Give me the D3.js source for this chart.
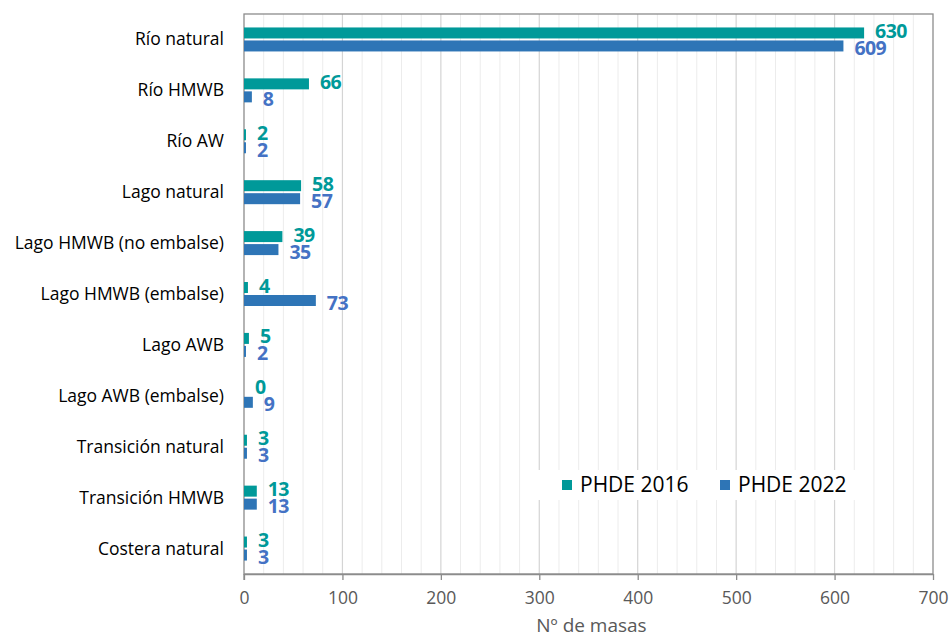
<!DOCTYPE html>
<html>
<head>
<meta charset="utf-8">
<script src="https://cdn.jsdelivr.net/npm/d3@7"></script>
<style>
  body { margin: 0; background: #fff; }
  text { font-family: "Open Sans", sans-serif; }
</style>
</head>
<body>
<div id="chart"></div>
<script>
// data
var categories = ['Río natural', 'Río HMWB', 'Río AW', 'Lago natural', 'Lago HMWB (no embalse)',
  'Lago HMWB (embalse)', 'Lago AWB', 'Lago AWB (embalse)', 'Transición natural',
  'Transición HMWB', 'Costera natural']
var values2016 = [630, 66, 2, 58, 39, 4, 5, 0, 3, 13, 3]
var values2022 = [609, 8, 2, 57, 35, 73, 2, 9, 3, 13, 3]
var seriesNames = ['PHDE 2016', 'PHDE 2022']
var xTicks = [0, 100, 200, 300, 400, 500, 600, 700]

var colors = ['#009999', '#2E75B6']
var labelColors = ['#009999', '#4472C4']

var W = 949, H = 641
var margin = { top: 14, right: 16, bottom: 67, left: 244 }
var width = W - margin.left - margin.right
var height = H - margin.top - margin.bottom

var svg = d3.select('#chart')
  .append('svg')
  .attr('width', W)
  .attr('height', H)
  .append('g')
  .attr('transform', 'translate(' + margin.left + ',' + margin.top + ')')

var x = d3.scaleLinear().domain([0, 700]).range([0, width])
var y = d3.scaleBand().domain(categories).range([0, height])

// grid lines: minor every 20, major every 100
svg.append('g')
  .selectAll('line')
  .data(d3.range(20, 700, 20).filter(function (d) { return d % 100 !== 0 }))
  .enter()
  .append('line')
  .attr('x1', d => x(d)).attr('x2', d => x(d))
  .attr('y1', 0).attr('y2', height)
  .attr('stroke', '#ececec')
  .attr('stroke-width', 1)

svg.append('g')
  .selectAll('line')
  .data(xTicks.slice(1, -1))
  .enter()
  .append('line')
  .attr('x1', d => x(d)).attr('x2', d => x(d))
  .attr('y1', 0).attr('y2', height)
  .attr('stroke', '#d4d4d4')
  .attr('stroke-width', 1.2)

// plot border
svg.append('rect')
  .attr('x', 0).attr('y', 0)
  .attr('width', width).attr('height', height)
  .attr('fill', 'none')
  .attr('stroke', '#8c8c8c')
  .attr('stroke-width', 1.3)

// bars
var series = [values2016, values2022]
var barH = 11
var offsets = [-12, 1]
var labelShift = [5, 9]

series.forEach(function (vals, i) {
  var g = svg.append('g')
  g.selectAll('rect')
    .data(vals)
    .enter()
    .append('rect')
    .attr('x', 0)
    .attr('y', (d, j) => y(categories[j]) + y.bandwidth() / 2 + offsets[i])
    .attr('width', d => x(d))
    .attr('height', barH)
    .attr('fill', colors[i])

  g.selectAll('text')
    .data(vals)
    .enter()
    .append('text')
    .attr('x', d => x(d) + 11)
    .attr('y', (d, j) => y(categories[j]) + y.bandwidth() / 2 + offsets[i] + barH / 2 + labelShift[i])
    .attr('fill', labelColors[i])
    .attr('font-size', 19.5)
    .attr('font-weight', 'bold')
    .attr('letter-spacing', -0.6)
    .text(d => d)
})

// x axis
var xAxis = svg.append('g')
  .attr('transform', 'translate(0,' + height + ')')
  .call(d3.axisBottom(x).tickValues(xTicks).tickSize(6).tickSizeOuter(0).tickPadding(12))
xAxis.select('.domain').attr('stroke', '#8c8c8c').attr('stroke-width', 1.3)
xAxis.selectAll('.tick line').attr('stroke', '#8c8c8c').attr('stroke-width', 1.3)
xAxis.selectAll('.tick text')
  .attr('fill', '#595959')
  .attr('font-size', 17.5)
  .style('font-family', '"Open Sans", sans-serif')

// left axis line extends to tick
svg.append('line')
  .attr('x1', 0).attr('x2', 0)
  .attr('y1', height).attr('y2', height + 6)
  .attr('stroke', '#8c8c8c').attr('stroke-width', 1.3)

// category labels
svg.append('g')
  .selectAll('text')
  .data(categories)
  .enter()
  .append('text')
  .attr('x', -20)
  .attr('y', d => y(d) + y.bandwidth() / 2 + 6)
  .attr('text-anchor', 'end')
  .attr('fill', '#000')
  .attr('font-size', 17.5)
  .text(d => d)

// axis title
svg.append('text')
  .attr('x', width / 2 + 3)
  .attr('y', height + 58)
  .attr('text-anchor', 'middle')
  .attr('fill', '#595959')
  .attr('font-size', 19)
  .text('Nº de masas')

// legend
var legend = svg.append('g')
  .attr('transform', 'translate(' + (535 - margin.left) + ',' + (470 - margin.top) + ')')
legend.append('rect')
  .attr('width', 330).attr('height', 30)
  .attr('fill', '#fff')

var legendX = [27, 185]
seriesNames.forEach(function (name, i) {
  legend.append('rect')
    .attr('x', legendX[i])
    .attr('y', 10)
    .attr('width', 10).attr('height', 10)
    .attr('fill', colors[i])
  legend.append('text')
    .attr('x', legendX[i] + 18)
    .attr('y', 22)
    .attr('font-size', 21)
    .attr('fill', '#000')
    .text(name)
})
</script>
</body>
</html>
